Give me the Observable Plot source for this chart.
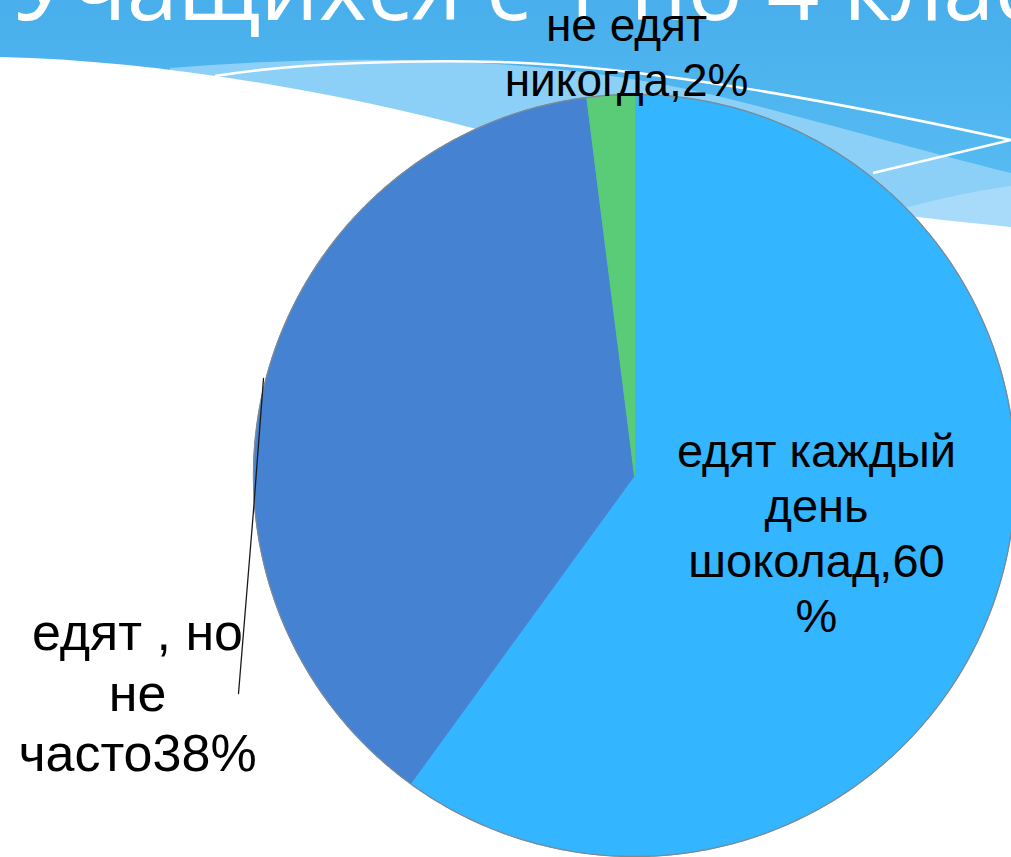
<!DOCTYPE html>
<html><head><meta charset="utf-8">
<script src="https://cdn.jsdelivr.net/npm/d3@7"></script>
<script src="https://cdn.jsdelivr.net/npm/@observablehq/plot@0.6"></script>
<style>
html,body{margin:0;padding:0;background:#fff;}
#wrap{position:relative;width:1011px;height:857px;overflow:hidden;}
#bg{position:absolute;left:0;top:0;}
#chart{position:absolute;left:0;top:0;}
</style></head><body>
<div id="wrap">
<svg id="bg" width="1011" height="857" viewBox="0 0 1011 857">
  <defs>
    <linearGradient id="topg" x1="0" y1="0" x2="0" y2="1">
      <stop offset="0" stop-color="#48AFEC"/>
      <stop offset="1" stop-color="#5BBFF4"/>
    </linearGradient>
  </defs>
  <rect x="0" y="0" width="1011" height="857" fill="#fff"/>
  <rect x="0" y="0" width="1011" height="240" fill="url(#topg)"/>
  <path d="M170,68 C320,56 520,52 700,92 C760,105 900,145 1011,173 L1011,240 L170,240 Z" fill="#8CD0F7"/>
  <path d="M880,215 C930,200 980,190 1011,186 L1011,240 L880,240 Z" fill="#A8DBFA"/>
  <path d="M0,57 C150,60 330,90 480,130 C640,172 820,210 1011,227 L1011,857 L0,857 Z" fill="#fff"/>
  <path d="M215,76 C300,62 420,60 500,62 C650,66 850,105 1011,140 L873,173" fill="none" stroke="#fff" stroke-width="2.5"/>
  <text id="title" x="14" y="20" font-family="Open Sans" font-size="92" fill="#fff">Учащихся с 1 по 4 класс</text>
</svg>
<div id="chart"></div>
</div>
<script>
// ---- data ----
const categories = ["едят каждый день шоколад", "едят , но не часто", "не едят никогда"];
const values = [60, 38, 2];
const labels = ["едят каждый\nдень\nшоколад,60\n%", "едят , но\nне\nчасто38%", "не едят\nникогда,2%"];
const colors = ["#33B5FF", "#4682D2", "#5ACB77"];

// ---- layout (pixels) ----
const W = 1011, H = 857, CX = 634, CY = 475, R = 381;
const toU = px => (px - CX) / R;
const toV = py => (CY - py) / R;
const labelLayout = [
  {x: 816, top: 427, size: 47, lh: 1.17},
  {x: 137, top: 607, size: 52, lh: 1.16},
  {x: 626, top: 1, size: 46, lh: 1.2}
];
const leaderPx = [[263, 378], [253, 510], [238, 693]];

// ---- pie geometry from the values ----
const total = d3.sum(values);
const pieRows = [];
let acc = 0;
values.forEach((val, i) => {
  const a0 = acc / total * 2 * Math.PI, a1 = (acc + val) / total * 2 * Math.PI;
  acc += val;
  const n = Math.max(4, Math.ceil((a1 - a0) / (Math.PI / 360)));
  pieRows.push({cat: categories[i], u: 0, v: 0});
  for (let k = 0; k <= n; k++) {
    const a = a0 + (a1 - a0) * k / n;
    pieRows.push({cat: categories[i], u: Math.sin(a), v: Math.cos(a)});
  }
  pieRows.push({cat: categories[i], u: 0, v: 0});
});
const rim = d3.range(0, 721).map(k => ({u: Math.sin(k / 720 * 2 * Math.PI), v: Math.cos(k / 720 * 2 * Math.PI)}));
const leader = leaderPx.map(([x, y]) => ({u: toU(x), v: toV(y)}));

const textMarks = labels.map((t, i) => {
  const L = labelLayout[i];
  return Plot.text([{u: toU(L.x), v: toV(L.top), t}], {
    x: "u", y: "v", text: "t", fontSize: L.size, lineHeight: L.lh,
    lineAnchor: "top", textAnchor: "middle", fill: "#000",
    fontFamily: "Liberation Sans, Arial, sans-serif"
  });
});

const chart = Plot.plot({
  width: W, height: H, margin: 0,
  x: {domain: [-CX / R, (W - CX) / R], axis: null},
  y: {domain: [(CY - H) / R, CY / R], axis: null},
  color: {domain: categories, range: colors},
  style: {background: "transparent", overflow: "visible"},
  marks: [
    Plot.line(pieRows, {x: "u", y: "v", z: "cat", fill: "cat", stroke: "cat", strokeWidth: 1, strokeLinejoin: "round"}),
    Plot.line(rim, {x: "u", y: "v", stroke: "#7c8a96", strokeWidth: 1.3}),
    Plot.line(leader, {x: "u", y: "v", stroke: "#1a1a1a", strokeWidth: 1.3}),
    ...textMarks
  ]
});
document.getElementById("chart").appendChild(chart);
</script>
</body></html>
